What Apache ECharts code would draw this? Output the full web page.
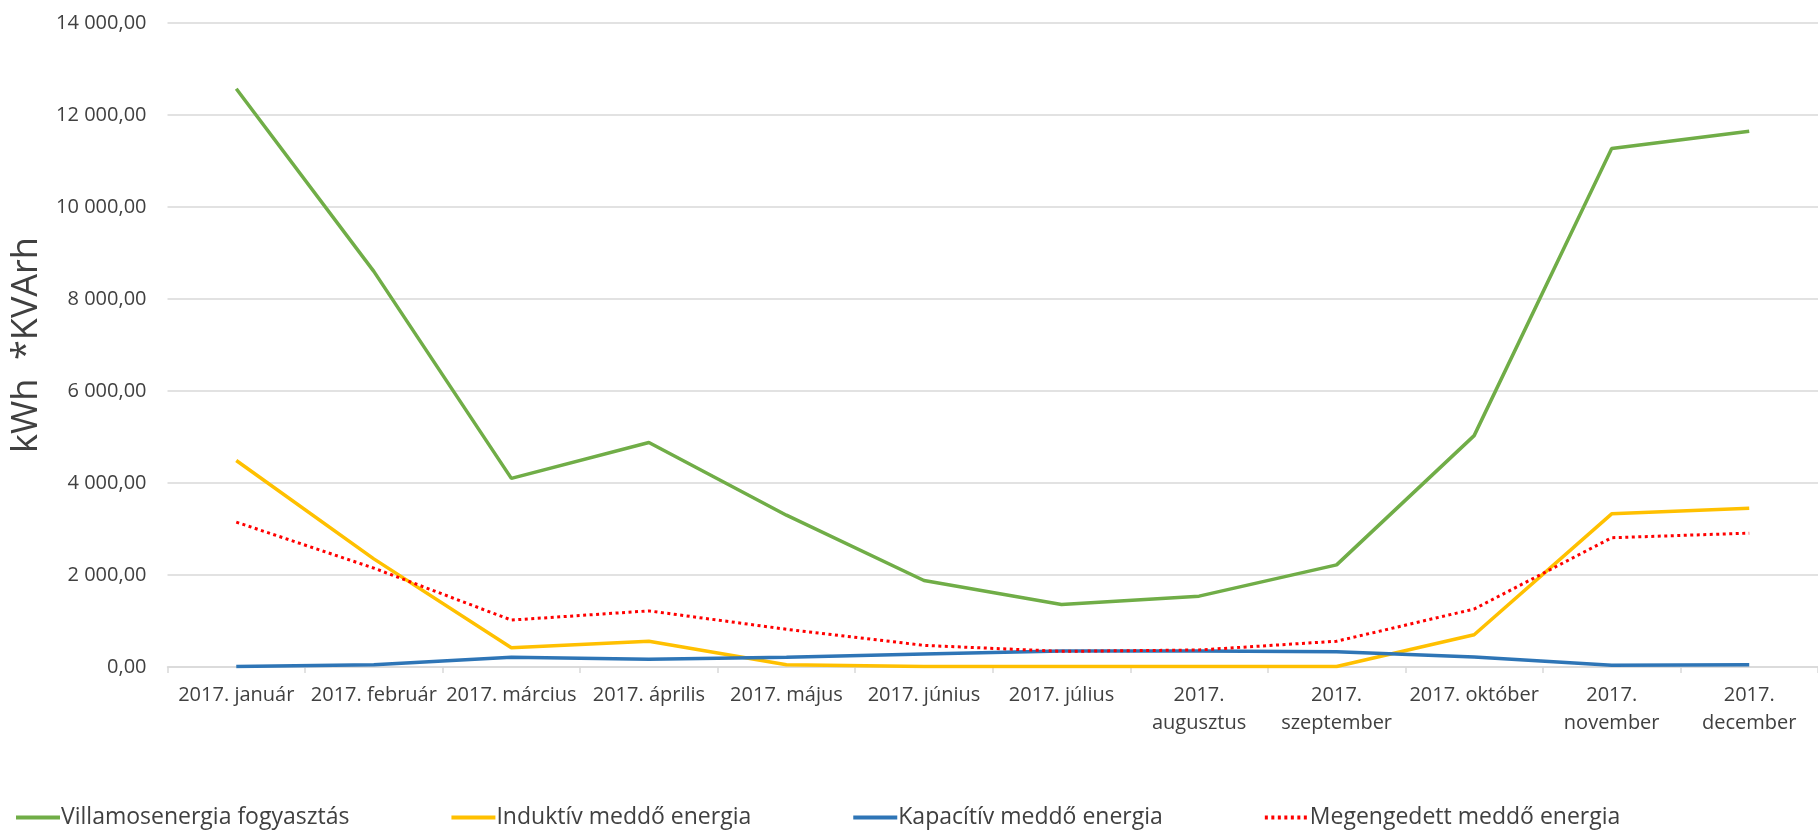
<!DOCTYPE html>
<html>
<head>
<meta charset="utf-8">
<script src="https://cdn.jsdelivr.net/npm/echarts@6/dist/echarts.min.js"></script>
<style>
html,body{margin:0;padding:0;background:#fff;}
#chart{width:1818px;height:830px;}
</style>
</head>
<body>
<div id="chart"></div>
<script>
const categories = ['2017. január','2017. február','2017. március','2017. április','2017. május','2017. június','2017. július','2017. augusztus','2017. szeptember','2017. október','2017. november','2017. december'];
const wrappedLabels = ['2017. augusztus','2017. szeptember','2017. november','2017. december'];
const villamos = [12570, 8600, 4100, 4880, 3300, 1880, 1360, 1540, 2220, 5030, 11270, 11645];
const induktiv = [4490, 2350, 420, 560, 50, 10, 10, 10, 10, 700, 3330, 3450];
const kapacitiv = [10, 50, 210, 170, 210, 280, 350, 350, 330, 220, 40, 50];
const megengedett = [3150, 2150, 1020, 1220, 820, 470, 340, 370, 560, 1260, 2810, 2910];
const seriesNames = ['Villamosenergia fogyasztás','Induktív meddő energia','Kapacítív meddő energia','Megengedett meddő energia'];
const yAxisTitle = 'kWh  *KVArh';
const yMin = 0, yMax = 14000, yInterval = 2000;

const FONT = '"Open Sans", sans-serif';
const chart = echarts.init(document.getElementById('chart'), null, {renderer:'canvas'});
function fmt(v){
  const s = v.toFixed(2).split('.');
  return s[0].replace(/\B(?=(\d{3})+(?!\d))/g, ' ') + ',' + s[1];
}
const lineW = 3.5;
chart.setOption({
  animation:false,
  backgroundColor:'#fff',
  textStyle:{fontFamily:FONT},
  grid:{left:167.5, top:23, width:1662, height:644, containLabel:false},
  legend:{
    left:9, top:801, itemWidth:44, itemHeight:14, itemGap:100,
    itemStyle:{color:'rgba(0,0,0,0)', borderWidth:0, opacity:0},
    lineStyle:{width:4},
    textStyle:{fontFamily:FONT, fontSize:23, color:'#404040', padding:[0,0,0,-4]},
    data:seriesNames.map(n=>({name:n}))
  },
  xAxis:{
    type:'category', data:categories, boundaryGap:true,
    axisLine:{lineStyle:{color:'#d9d9d9', width:1.5}},
    axisTick:{show:true, alignWithLabel:false, length:6, lineStyle:{color:'#d9d9d9', width:1.5}},
    axisLabel:{interval:0, margin:14, fontFamily:FONT, fontSize:20, color:'#404040', lineHeight:28,
      formatter:v=> wrappedLabels.includes(v) ? v.replace('. ', '.\n') : v}
  },
  yAxis:{
    type:'value', min:yMin, max:yMax, interval:yInterval,
    name:yAxisTitle, nameLocation:'middle', nameGap:120, nameRotate:90,
    nameTextStyle:{fontFamily:FONT, fontSize:36, color:'#404040'},
    axisLine:{show:false}, axisTick:{show:false},
    splitLine:{lineStyle:{color:'#d9d9d9', width:1.5}},
    axisLabel:{margin:21, fontFamily:FONT, fontSize:20, color:'#404040', formatter:fmt}
  },
  series:[
    {name:seriesNames[0], type:'line', data:villamos, symbol:'none', itemStyle:{color:'#70AD47'}, lineStyle:{color:'#70AD47', width:lineW}},
    {name:seriesNames[1], type:'line', data:induktiv, symbol:'none', itemStyle:{color:'#FFC000'}, lineStyle:{color:'#FFC000', width:lineW}},
    {name:seriesNames[2], type:'line', data:kapacitiv, symbol:'none', itemStyle:{color:'#2E75B6'}, lineStyle:{color:'#2E75B6', width:lineW}},
    {name:seriesNames[3], type:'line', data:megengedett, symbol:'none', itemStyle:{color:'#FF0000'}, lineStyle:{color:'#FF0000', width:3, type:[3,3.5]}}
  ]
});
</script>
</body>
</html>
